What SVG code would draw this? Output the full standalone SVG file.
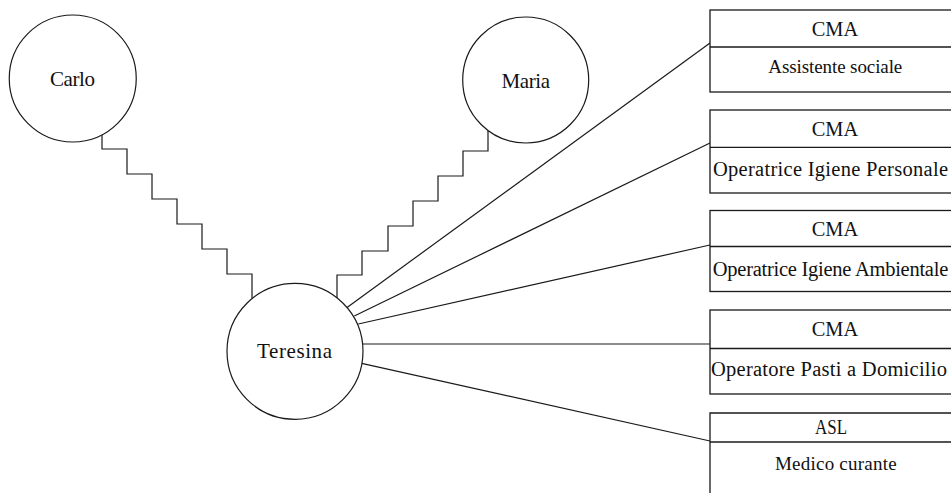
<svg xmlns="http://www.w3.org/2000/svg" width="951" height="493" viewBox="0 0 951 493">
  <style>
    .bg { fill: #ffffff; }
    .person { fill: #ffffff; stroke: #1a1a1a; stroke-width: 1.2; }
    .box { fill: #ffffff; stroke: #1a1a1a; stroke-width: 1.3; }
    .link { fill: none; stroke: #1a1a1a; stroke-width: 1.2; }
    .kin { fill: none; stroke: #1a1a1a; stroke-width: 1.2; stroke-linejoin: miter; }
    text { font-family: "Liberation Serif", "Times New Roman", serif; fill: #111111; }
    .name { font-size: 21px; text-anchor: middle; }
    .org { font-size: 20px; text-anchor: middle; }
    .role { font-size: 20.5px; text-anchor: middle; }
    .role-s { font-size: 19px; text-anchor: middle; }
  </style>

  <rect class="bg" x="0" y="0" width="951" height="493"/>

  <!-- connectors: family ties (stepped) and service ties (straight) -->
  <g id="connectors">
    <path class="kin" d="M102,134 V149 H127 V174 H152 V199 H177 V224 H202 V249 H227 V274 H252 V298"/>
    <path class="kin" d="M488,131 V151 H463 V176 H438 V201 H413 V226 H388 V251 H362 V275 H337 V298"/>
    <line class="link" x1="346.7" y1="307.7" x2="710" y2="43"/>
    <line class="link" x1="354.3" y1="316" x2="710" y2="143"/>
    <line class="link" x1="358.3" y1="324" x2="710" y2="245"/>
    <line class="link" x1="362.5" y1="344" x2="710" y2="344"/>
    <line class="link" x1="361.7" y1="363.3" x2="710" y2="441"/>
  </g>

  <!-- people -->
  <g id="carlo">
    <circle class="person" cx="72.75" cy="78.5" r="63.5"/>
    <text class="name" x="72.5" y="86" textLength="45" lengthAdjust="spacing">Carlo</text>
  </g>
  <g id="maria">
    <circle class="person" cx="525.7" cy="80" r="63"/>
    <text class="name" x="525.8" y="87.5" textLength="48.5" lengthAdjust="spacing">Maria</text>
  </g>
  <g id="teresina">
    <circle class="person" cx="295" cy="351.3" r="68"/>
    <text class="name" x="294.5" y="358" textLength="75" lengthAdjust="spacing">Teresina</text>
  </g>

  <!-- services -->
  <g id="assistente-sociale">
    <rect class="box" x="710" y="10" width="260" height="82"/>
    <line class="box" x1="710" y1="47" x2="970" y2="47"/>
    <text class="org" x="835" y="36" textLength="46.5" lengthAdjust="spacingAndGlyphs">CMA</text>
    <text class="role-s" x="835.3" y="73" textLength="134" lengthAdjust="spacing">Assistente sociale</text>
  </g>
  <g id="igiene-personale">
    <rect class="box" x="710" y="110" width="260" height="83"/>
    <line class="box" x1="710" y1="147.3" x2="970" y2="147.3"/>
    <text class="org" x="835" y="136" textLength="46.5" lengthAdjust="spacingAndGlyphs">CMA</text>
    <text class="role" x="830.5" y="176" textLength="235" lengthAdjust="spacing">Operatrice Igiene Personale</text>
  </g>
  <g id="igiene-ambientale">
    <rect class="box" x="710" y="210.5" width="260" height="81"/>
    <line class="box" x1="710" y1="246.5" x2="970" y2="246.5"/>
    <text class="org" x="835" y="236" textLength="46.5" lengthAdjust="spacingAndGlyphs">CMA</text>
    <text class="role" x="830.5" y="276" textLength="235.5" lengthAdjust="spacing">Operatrice Igiene Ambientale</text>
  </g>
  <g id="pasti-domicilio">
    <rect class="box" x="710" y="310" width="260" height="84"/>
    <line class="box" x1="710" y1="348.5" x2="970" y2="348.5"/>
    <text class="org" x="835" y="336" textLength="46.5" lengthAdjust="spacingAndGlyphs">CMA</text>
    <text class="role" x="829" y="375.5" textLength="236" lengthAdjust="spacing">Operatore Pasti a Domicilio</text>
  </g>
  <g id="medico-curante">
    <path class="box" d="M710,500 V413 H970"/>
    <line class="box" x1="710" y1="442" x2="970" y2="442"/>
    <text class="org" x="831" y="434" textLength="32" lengthAdjust="spacingAndGlyphs">ASL</text>
    <text class="role-s" x="835.8" y="470" textLength="121.7" lengthAdjust="spacing">Medico curante</text>
  </g>
</svg>
